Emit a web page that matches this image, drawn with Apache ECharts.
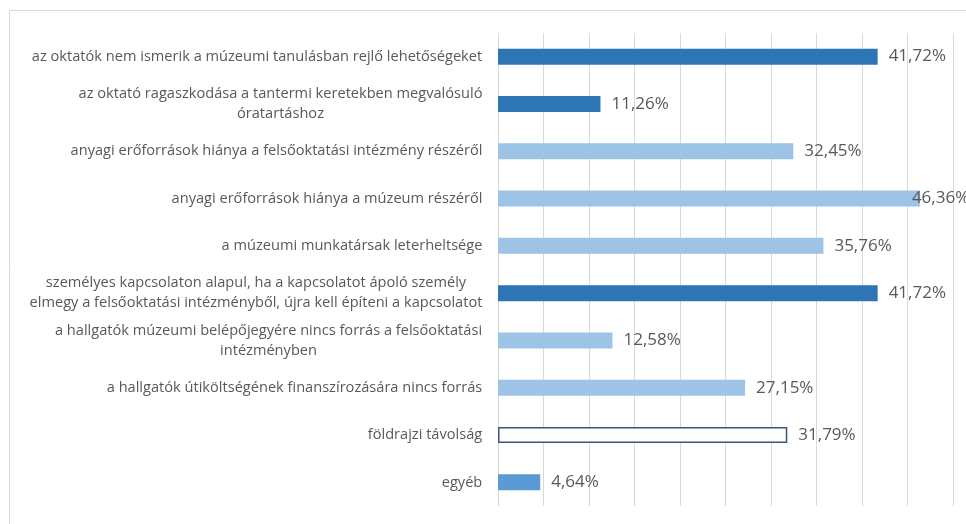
<!DOCTYPE html>
<html>
<head>
<meta charset="utf-8">
<script src="https://cdn.jsdelivr.net/npm/echarts@6/dist/echarts.min.js"></script>
<style>
  html, body { margin: 0; padding: 0; background: #fff; }
  #chart { width: 966px; height: 524px; }
</style>
</head>
<body>
<div id="chart"></div>
<script>
// kategóriák (fentről lefelé)
const categories = [
  'az oktatók nem ismerik a múzeumi tanulásban rejlő lehetőségeket',
  'az oktató ragaszkodása a tantermi keretekben megvalósuló\nóratartáshoz',
  'anyagi erőforrások hiánya a felsőoktatási intézmény részéről',
  'anyagi erőforrások hiánya a múzeum részéről',
  'a múzeumi munkatársak leterheltsége',
  'személyes kapcsolaton alapul, ha a kapcsolatot ápoló személy\nelmegy a felsőoktatási intézményből, újra kell építeni a kapcsolatot',
  'a hallgatók múzeumi belépőjegyére nincs forrás a felsőoktatási\nintézményben',
  'a hallgatók útiköltségének finanszírozására nincs forrás',
  'földrajzi távolság',
  'egyéb'
]
const values = [41.72, 11.26, 32.45, 46.36, 35.76, 41.72, 12.58, 27.15, 31.79, 4.64]
// színcsoport bar-onként
const colorGroup = ['dark', 'dark', 'light', 'light', 'light', 'dark', 'light', 'light', 'outline', 'mid']

const FONT_FAMILY = 'Open Sans, sans-serif'
const CAT_FONT = 14.6
const VAL_FONT = 17

const styles = {
  dark: { color: '#2e75b6' },
  light: { color: '#9dc3e6' },
  mid: { color: '#5b9bd5' },
  outline: { color: '#ffffff', borderColor: '#3a5678', borderWidth: 1.5 }
}

// szövegszélesség mérése a többsoros címkék középre igazításához
const ctx = document.createElement('canvas').getContext('2d')
ctx.font = CAT_FONT + 'px ' + FONT_FAMILY
const measure = (s) => Math.ceil(ctx.measureText(s).width) + 1

const rich = {}
categories.forEach((c, i) => {
  const lines = c.split('\n')
  rich['c' + i] = {
    width: Math.max(...lines.map(measure)),
    align: 'center',
    fontSize: CAT_FONT,
    fontFamily: FONT_FAMILY,
    color: '#595959',
    lineHeight: 20
  }
})

const seriesData = values.map((v, i) => {
  const item = { value: v, itemStyle: styles[colorGroup[i]] }
  // Excelben a 46,36% címke rácsúszik az oszlopra
  if (i === 3) item.label = { distance: -8 }
  return item
})

const chart = echarts.init(document.getElementById('chart'))
chart.setOption({
  animation: false,
  graphic: [{
    type: 'rect',
    shape: { x: 9.5, y: 10.5, width: 1000, height: 600 },
    style: { fill: 'none', stroke: '#d9d9d9', lineWidth: 1 },
    silent: true
  }],
  grid: { left: 498, right: 13, top: 33, bottom: 18 },
  xAxis: {
    type: 'value',
    min: 0,
    max: 50,
    interval: 5,
    axisLabel: { show: false },
    axisLine: { show: false },
    axisTick: { show: false },
    splitLine: { show: true, lineStyle: { color: '#d9d9d9', width: 1 } }
  },
  yAxis: {
    type: 'category',
    inverse: true,
    data: categories,
    axisLine: { show: false },
    axisTick: { show: false },
    axisLabel: {
      margin: 15,
      formatter: (val, idx) => val.split('\n').map((l) => '{c' + idx + '|' + l + '}').join('\n'),
      rich: rich
    }
  },
  series: [{
    type: 'bar',
    data: seriesData,
    barWidth: 16,
    label: {
      show: true,
      position: 'right',
      distance: 11,
      color: '#595959',
      fontFamily: FONT_FAMILY,
      fontSize: VAL_FONT,
      formatter: (p) => p.value.toFixed(2).replace('.', ',') + '%'
    }
  }]
})
</script>
</body>
</html>
